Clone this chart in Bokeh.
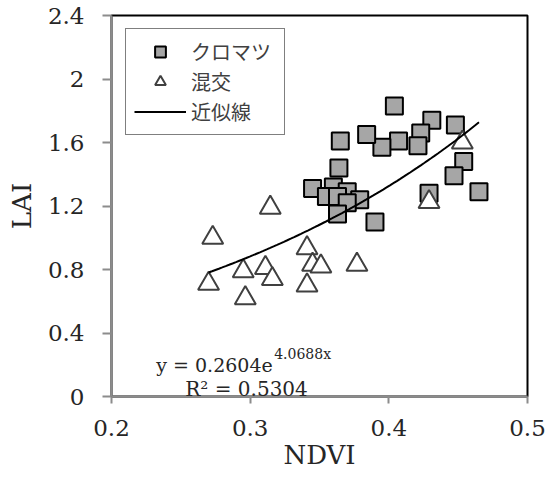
import numpy as np
from bokeh.plotting import figure
from bokeh.models import Range1d, FixedTicker, Legend, LegendItem, Label
from bokeh.embed import file_html
from bokeh.resources import INLINE

# ---- data ----
kuromatsu_ndvi = [0.404, 0.431, 0.448, 0.423, 0.421, 0.407, 0.395, 0.384, 0.365, 0.364,
                  0.454, 0.447, 0.465, 0.429, 0.345, 0.360, 0.370, 0.355, 0.363, 0.379,
                  0.370, 0.363, 0.390]
kuromatsu_lai = [1.83, 1.74, 1.71, 1.66, 1.58, 1.61, 1.57, 1.65, 1.61, 1.44,
                 1.48, 1.39, 1.29, 1.28, 1.31, 1.32, 1.29, 1.26, 1.26, 1.24,
                 1.22, 1.15, 1.10]
konko_ndvi = [0.3145, 0.273, 0.341, 0.295, 0.311, 0.270, 0.316, 0.345, 0.351, 0.377,
              0.341, 0.2965, 0.429, 0.453]
konko_lai = [1.19, 1.00, 0.935, 0.79, 0.81, 0.71, 0.74, 0.83, 0.82, 0.83,
             0.70, 0.62, 1.225, 1.60]

fit_a = 0.2604
fit_b = 4.0688
fit_ndvi_span = [0.270, 0.465]

x_ticks = [0.2, 0.3, 0.4, 0.5]
x_tick_labels = ["0.2", "0.3", "0.4", "0.5"]
y_ticks = [0, 0.4, 0.8, 1.2, 1.6, 2.0, 2.4]
y_tick_labels = ["0", "0.4", "0.8", "1.2", "1.6", "2", "2.4"]

legend_labels = ["クロマツ", "混交", "近似線"]
eq_main = "y = 0.2604e"
eq_sup = "4.0688x"
eq_r2 = "R² = 0.5304"

# ---- figure ----
SERIF = "DejaVu Serif"
TXT = "#262626"
AXC = "#8c8c8c"

p = figure(width=553, height=477, output_backend="svg", toolbar_location=None,
           x_range=Range1d(0.2, 0.5), y_range=Range1d(0, 2.4),
           min_border_left=111, min_border_right=26, min_border_top=15, min_border_bottom=81)
p.grid.visible = False
p.outline_line_color = "black"
p.outline_line_width = 2
p.background_fill_color = "white"
p.border_fill_color = "white"

for ax, ticks, labels in ((p.xaxis, x_ticks, x_tick_labels), (p.yaxis, y_ticks, y_tick_labels)):
    ax.ticker = FixedTicker(ticks=ticks)
    ax.major_label_overrides = {t: l for t, l in zip(ticks, labels)}
    ax.axis_line_color = AXC
    ax.axis_line_width = 2
    ax.major_tick_line_color = AXC
    ax.major_tick_line_width = 2
    ax.major_tick_in = 0
    ax.minor_tick_line_color = None
    ax.major_label_text_font = SERIF
    ax.major_label_text_font_size = "23px"
    ax.major_label_text_color = TXT
    ax.axis_label_text_font = SERIF
    ax.axis_label_text_font_size = "26px"
    ax.axis_label_text_font_style = "normal"
    ax.axis_label_text_color = TXT

p.xaxis.axis_label = "NDVI"
p.xaxis.major_tick_out = 7
p.xaxis.major_label_standoff = 16
p.xaxis.axis_label_standoff = 1
p.yaxis.axis_label = "LAI"
p.yaxis.major_tick_out = 9
p.yaxis.major_label_standoff = 18
p.yaxis.axis_label_standoff = 8

sq = p.scatter(kuromatsu_ndvi, kuromatsu_lai, marker="square", size=17,
               fill_color="#a6a6a6", line_color="black", line_width=2)
tri = p.scatter(konko_ndvi, konko_lai, marker="triangle", size=21,
                fill_color="white", line_color="#404040", line_width=2)

fx = np.linspace(fit_ndvi_span[0], fit_ndvi_span[1], 80)
fy = fit_a * np.exp(fit_b * fx)
ln = p.line(fx, fy, line_color="black", line_width=2)

legend = Legend(items=[LegendItem(label=legend_labels[0], renderers=[sq]),
                       LegendItem(label=legend_labels[1], renderers=[tri]),
                       LegendItem(label=legend_labels[2], renderers=[ln])],
                location=(14, 261), margin=0, padding=8, spacing=1,
                glyph_width=52, glyph_height=27, label_height=27, label_width=85,
                label_standoff=5,
                label_text_font="Noto Sans CJK JP", label_text_font_size="20px",
                label_text_color="#404040",
                border_line_color="black", border_line_width=1.5,
                background_fill_color="white", background_fill_alpha=1)
p.add_layout(legend)

p.add_layout(Label(x=0.2323, y=0.200, text=eq_main, text_font=SERIF, text_font_size="19px",
                   text_color=TXT, text_baseline="alphabetic"))
p.add_layout(Label(x=0.3173, y=0.269, text=eq_sup, text_font=SERIF, text_font_size="14px",
                   text_color=TXT, text_baseline="alphabetic"))
p.add_layout(Label(x=0.2532, y=0.0486, text=eq_r2, text_font=SERIF, text_font_size="20px",
                   text_color=TXT, text_baseline="alphabetic"))

open("out.html", "w").write(file_html(p, INLINE))
